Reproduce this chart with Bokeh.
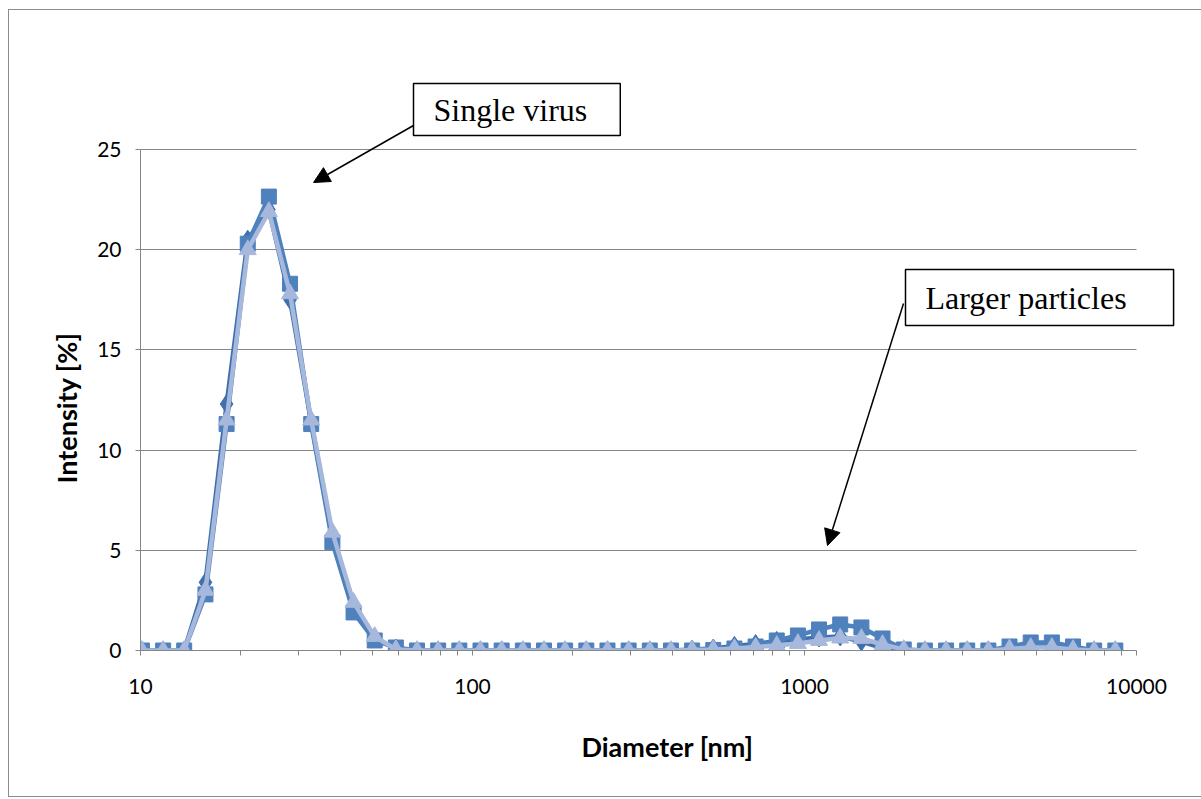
from bokeh.plotting import figure
from bokeh.models import (FixedTicker, NumeralTickFormatter, Label, Arrow,
                          NormalHead, Range1d, Title)
from bokeh.embed import file_html
from bokeh.resources import INLINE

# ---------------- data ----------------
diameter_nm = [10.1, 11.7, 13.54, 15.69, 18.17, 21.04, 24.36, 28.21, 32.67, 37.84,
               43.82, 50.75, 58.77, 68.06, 78.82, 91.28, 105.7, 122.4, 141.8, 164.2,
               190.1, 220.2, 255.0, 295.3, 342.0, 396.1, 458.7, 531.2, 615.1, 712.4,
               825.0, 955.4, 1106, 1281, 1484, 1718, 1990, 2305, 2669, 3091,
               3580, 4145, 4801, 5560, 6439, 7456, 8635]

# run 1 (diamonds)
intensity_run1 = [0, 0, 0, 3.4, 12.3, 20.5, 22.0, 17.5, 11.4, 5.6,
                  2.2, 0.6, 0.1, 0, 0, 0, 0, 0, 0, 0,
                  0, 0, 0, 0, 0, 0, 0.05, 0.1, 0.23, 0.32,
                  0.48, 0.55, 0.65, 0.7, 0.45, 0.12, 0, 0, 0, 0,
                  0, 0.1, 0.2, 0.2, 0.1, 0, 0]
# run 2 (squares)
intensity_run2 = [0, 0, 0, 2.8, 11.3, 20.3, 22.65, 18.3, 11.3, 5.4,
                  1.9, 0.5, 0.15, 0, 0, 0, 0, 0, 0, 0,
                  0, 0, 0, 0, 0, 0, 0, 0.02, 0.1, 0.2,
                  0.5, 0.75, 1.05, 1.3, 1.15, 0.6, 0.05, 0, 0, 0,
                  0, 0.2, 0.4, 0.4, 0.2, 0, 0]
# run 3 (triangles)
intensity_run3 = [0, 0, 0, 3.0, 11.5, 20.0, 21.9, 17.8, 11.5, 5.9,
                  2.4, 0.7, 0.05, 0, 0, 0, 0, 0, 0, 0,
                  0, 0, 0, 0, 0, 0, 0.02, 0.05, 0.1, 0.17,
                  0.25, 0.35, 0.5, 0.62, 0.6, 0.3, 0.05, 0, 0, 0,
                  0, 0.08, 0.15, 0.15, 0.05, 0, 0]

y_ticks = [0, 5, 10, 15, 20, 25]
x_ticks = [10, 100, 1000, 10000]
x_minor_ticks = [20, 30, 40, 50, 60, 70, 80, 90,
                 200, 300, 400, 500, 600, 700, 800, 900,
                 2000, 3000, 4000, 5000, 6000, 7000, 8000, 9000]

# ---------------- figure ----------------
W, H = 1201, 799
ML, MR, MT, MB = 140, 7, 20, 149
PX_PER_DECADE = 332.0
PX_PER_UNIT = 20.04
X_END = 10 ** (1 + (W - MR - ML) / PX_PER_DECADE)   # frame reaches past 10000
Y_END = (H - MB - MT) / PX_PER_UNIT                 # frame reaches above 25

p = figure(width=W, height=H, x_axis_type="log",
           x_range=Range1d(10, X_END), y_range=Range1d(0, Y_END),
           output_backend="svg", toolbar_location=None,
           min_border_left=ML, min_border_right=MR,
           min_border_top=MT, min_border_bottom=MB)
p.outline_line_color = None
p.background_fill_color = "white"
p.border_fill_color = None
BC = "#8c8c8c"
p.styles = {"background": (
    f"linear-gradient({BC},{BC}) 8px 9px / 1px 788px no-repeat, "
    f"linear-gradient({BC},{BC}) 8px 9px / 1193px 1px no-repeat, "
    f"linear-gradient({BC},{BC}) 8px 796px / 1193px 1px no-repeat, white")}

GRID = "#868686"
p.xgrid.grid_line_color = None
p.ygrid.grid_line_color = GRID
p.ygrid.grid_line_width = 1
p.ygrid.cross_bounds = (10, 10000)

for ax in (p.xaxis[0], p.yaxis[0]):
    ax.axis_line_color = GRID
    ax.major_tick_line_color = GRID
    ax.minor_tick_line_color = GRID
    ax.major_tick_in = 0
    ax.major_tick_out = 5
    ax.minor_tick_in = 0
    ax.minor_tick_out = 5
    ax.major_label_text_font = "Lato"
    ax.major_label_text_font_size = "21px"
    ax.major_label_text_color = "black"
    ax.axis_label_text_font = "Lato"
    ax.axis_label_text_font_style = "bold"
    ax.axis_label_text_font_size = "27px"
    ax.axis_label_text_color = "black"

p.yaxis.bounds = (0, 25)
p.yaxis.ticker = FixedTicker(ticks=y_ticks)
p.yaxis.minor_tick_line_color = None
p.yaxis.major_label_standoff = 14

p.xaxis.bounds = (10, 10000)
p.xaxis.ticker = FixedTicker(ticks=x_ticks, minor_ticks=x_minor_ticks)
p.xaxis.formatter = NumeralTickFormatter(format="0")
p.xaxis.major_label_standoff = 23
p.xaxis.axis_label = "Diameter [nm]"
p.xaxis.axis_label_standoff = 33

# y axis title as a side title so it can sit centred on the 0-25 span
ytitle = Title(text="Intensity [%]", align="left", offset=167,
               text_font="Lato", text_font_style="bold",
               text_font_size="27px", text_color="black", standoff=23)
p.add_layout(ytitle, "left")

C1 = "#3f6fae"
C2 = "#4f81bd"
C3 = "#a6b8dc"
LW = 4.5

p.line(diameter_nm, intensity_run1, line_color=C1, line_width=LW)
p.scatter(diameter_nm, intensity_run1, marker="diamond", size=19,
          fill_color=C1, line_color=C1)
p.line(diameter_nm, intensity_run2, line_color=C2, line_width=LW)
p.scatter(diameter_nm, intensity_run2, marker="square", size=15,
          fill_color=C2, line_color=C2)
p.line(diameter_nm, intensity_run3, line_color=C3, line_width=LW)
p.scatter(diameter_nm, intensity_run3, marker="triangle", size=17,
          fill_color=C3, line_color=C3)

# ---------------- annotations (canvas pixel positions) ----------------
SERIF = "Liberation Serif"

lab1 = Label(x=413, y=109, x_units="canvas", y_units="canvas",
             text="Single virus",
             text_font=SERIF, text_font_size="32px",
             text_baseline="middle", text_align="left",
             text_color="black",
             border_line_color="black", border_line_width=1.5,
             background_fill_color="white",
             padding=dict(left=20, right=33, top=8, bottom=8))
lab2 = Label(x=905, y=297, x_units="canvas", y_units="canvas",
             text="Larger particles",
             text_font=SERIF, text_font_size="32px",
             text_baseline="middle", text_align="left",
             text_color="black",
             border_line_color="black", border_line_width=1.5,
             background_fill_color="white",
             padding=dict(left=20, right=47, top=10, bottom=10))
p.add_layout(lab1)
p.add_layout(lab2)

arr1 = Arrow(end=NormalHead(size=16, fill_color="black", line_color="black"),
             x_start=413, y_start=125, x_end=313, y_end=182,
             start_units="canvas", end_units="canvas",
             line_color="black", line_width=1.5)
arr2 = Arrow(end=NormalHead(size=16, fill_color="black", line_color="black"),
             x_start=903, y_start=303, x_end=827, y_end=545,
             start_units="canvas", end_units="canvas",
             line_color="black", line_width=1.5)
p.add_layout(arr1)
p.add_layout(arr2)

open("out.html", "w").write(file_html(p, INLINE))
